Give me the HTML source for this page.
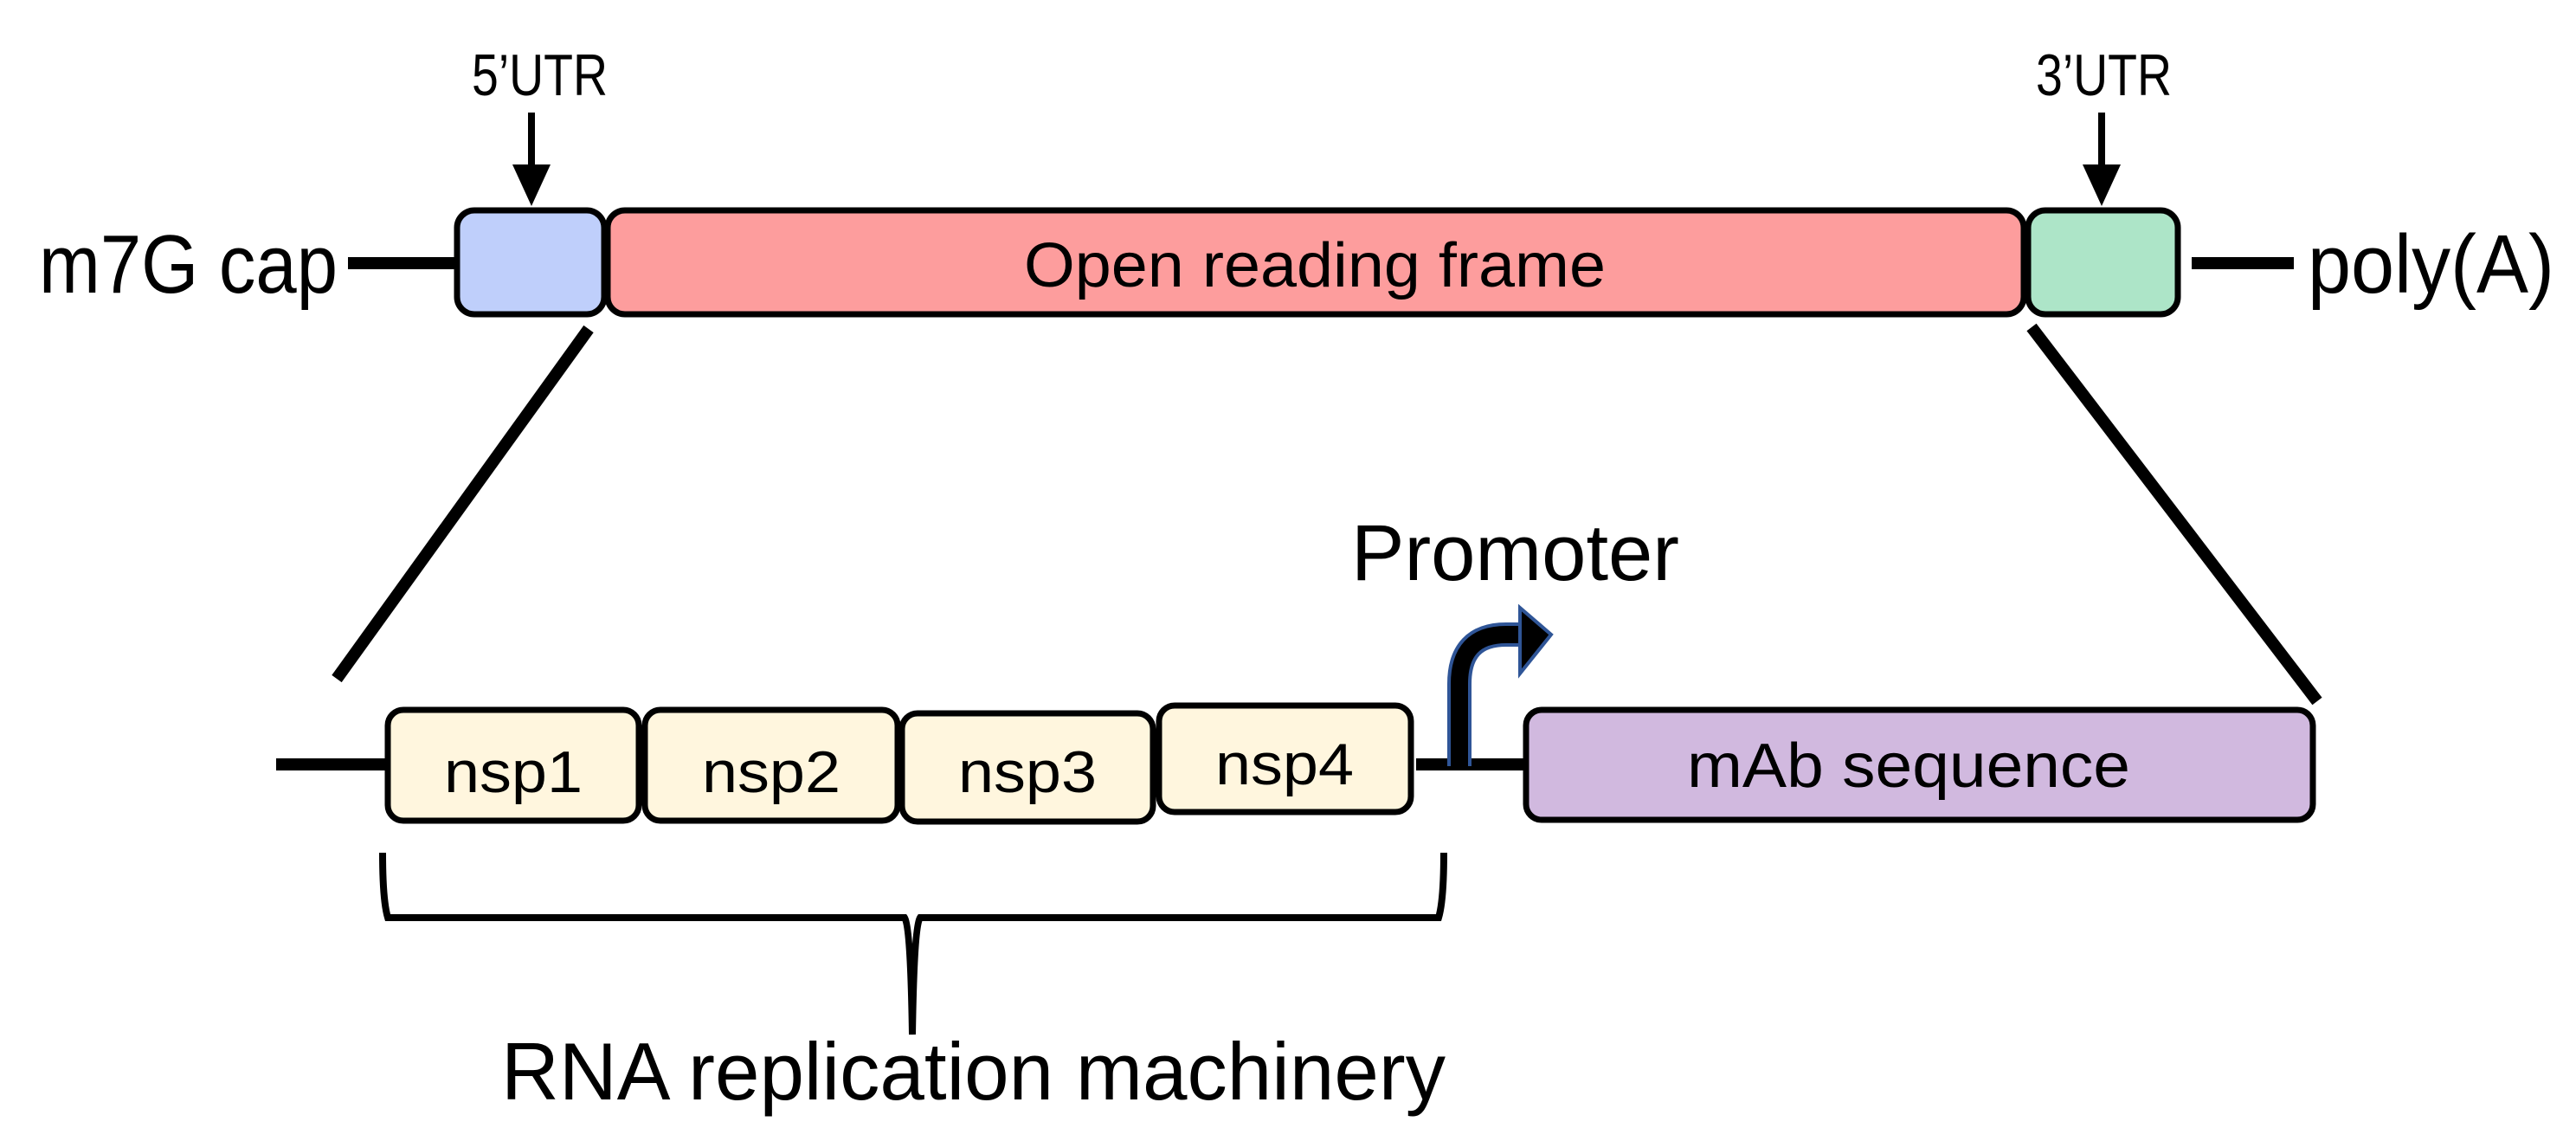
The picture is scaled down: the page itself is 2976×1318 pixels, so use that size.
<!DOCTYPE html>
<html><head><meta charset="utf-8"><style>
html,body{margin:0;padding:0;background:#fff;}
svg{display:block;}
text{font-family:"Liberation Sans",sans-serif;fill:#000;}
</style></head><body>
<svg width="2976" height="1318" viewBox="0 0 2976 1318" xmlns="http://www.w3.org/2000/svg">
<line x1="402" y1="304" x2="528" y2="304" stroke="#000" stroke-width="14"/>
<line x1="2532" y1="304" x2="2650" y2="304" stroke="#000" stroke-width="14"/>
<rect x="528" y="243" width="170" height="120" rx="20" fill="#bfcffb" stroke="#000" stroke-width="7"/>
<rect x="702" y="243" width="1636" height="120" rx="20" fill="#fd9d9d" stroke="#000" stroke-width="7"/>
<rect x="2343" y="243" width="173" height="120" rx="20" fill="#ade5c8" stroke="#000" stroke-width="7"/>
<text x="45" y="338" font-size="96" textLength="345" lengthAdjust="spacingAndGlyphs">m7G cap</text>
<text x="2666" y="338" font-size="96" textLength="285" lengthAdjust="spacingAndGlyphs">poly(A)</text>
<text x="1519" y="331" font-size="72" text-anchor="middle" textLength="672" lengthAdjust="spacingAndGlyphs">Open reading frame</text>
<text x="545" y="110" font-size="68" textLength="157" lengthAdjust="spacingAndGlyphs">5’UTR</text>
<text x="2352" y="110" font-size="68" textLength="157" lengthAdjust="spacingAndGlyphs">3’UTR</text>
<line x1="614" y1="130" x2="614" y2="195" stroke="#000" stroke-width="8"/>
<polygon points="592,190 636,190 614,238" fill="#000"/>
<line x1="2428" y1="130" x2="2428" y2="195" stroke="#000" stroke-width="8"/>
<polygon points="2406,190 2450,190 2428,238" fill="#000"/>
<line x1="680" y1="380" x2="389" y2="784" stroke="#000" stroke-width="14"/>
<line x1="2347" y1="378" x2="2677" y2="810" stroke="#000" stroke-width="14"/>
<line x1="319" y1="883" x2="448" y2="883" stroke="#000" stroke-width="14"/>
<line x1="1636" y1="883" x2="1763" y2="883" stroke="#000" stroke-width="14"/>
<rect x="448" y="820" width="290" height="128" rx="18" fill="#fff6de" stroke="#000" stroke-width="7"/>
<rect x="745" y="820" width="292" height="128" rx="18" fill="#fff6de" stroke="#000" stroke-width="7"/>
<rect x="1042" y="824" width="290" height="125" rx="18" fill="#fff6de" stroke="#000" stroke-width="7"/>
<rect x="1339" y="815" width="291" height="123" rx="18" fill="#fff6de" stroke="#000" stroke-width="7"/>
<text x="593" y="915" font-size="68" text-anchor="middle" textLength="160" lengthAdjust="spacingAndGlyphs">nsp1</text>
<text x="891" y="915" font-size="68" text-anchor="middle" textLength="160" lengthAdjust="spacingAndGlyphs">nsp2</text>
<text x="1187" y="915" font-size="68" text-anchor="middle" textLength="160" lengthAdjust="spacingAndGlyphs">nsp3</text>
<text x="1484" y="906" font-size="68" text-anchor="middle" textLength="160" lengthAdjust="spacingAndGlyphs">nsp4</text>
<rect x="1763" y="820" width="909" height="127" rx="18" fill="#d1b9df" stroke="#000" stroke-width="7"/>
<text x="2205" y="909" font-size="72" text-anchor="middle" textLength="512" lengthAdjust="spacingAndGlyphs">mAb sequence</text>
<path d="M1686,885 L1686,790 Q1686,733 1740,733 L1762,733" fill="none" stroke="#2f5597" stroke-width="28"/>
<path d="M1686,885 L1686,790 Q1686,733 1740,733 L1762,733" fill="none" stroke="#000" stroke-width="20"/>
<polygon points="1756,702 1792,733 1756,778" fill="#000" stroke="#2f5597" stroke-width="4"/>
<text x="1561" y="670" font-size="92" textLength="379" lengthAdjust="spacingAndGlyphs">Promoter</text>
<path d="M442,985 Q442,1040 448,1060 L1045,1060 Q1052,1070 1054,1195 Q1056,1070 1063,1060 L1662,1060 Q1668,1040 1668,985" fill="none" stroke="#000" stroke-width="8"/>
<text x="579" y="1270" font-size="94" textLength="1091" lengthAdjust="spacingAndGlyphs">RNA replication machinery</text>
</svg>
</body></html>
